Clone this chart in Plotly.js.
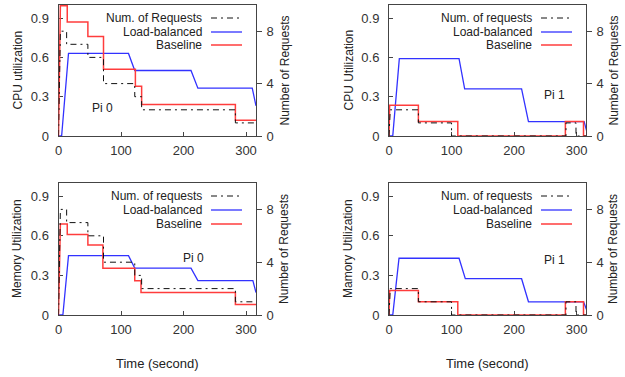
<!DOCTYPE html>
<html>
<head>
<meta charset="utf-8">
<script src="https://cdn.plot.ly/plotly-3.0.1.min.js"></script>
<style>html,body{margin:0;padding:0;background:#fff;}#chart{width:625px;height:377px;}</style>
</head>
<body>
<div id="chart"></div>
<script>
// ---------- data (time in seconds) ----------
// Pi 0 : number of requests (shared by CPU and memory panels)
const reqPi0T = [0, 3, 13, 13, 47, 47, 72, 72, 122, 122, 133, 133, 283, 283, 316];
const reqPi0V = [0, 8, 8, 7, 7, 6, 6, 4, 4, 3, 3, 2, 2, 1, 1];
// Pi 1 : number of requests
const reqPi1T = [0, 2, 47, 47, 100, 100, 283, 283, 299, 299, 316];
const reqPi1V = [0, 2, 2, 1, 1, 0, 0, 1, 1, 0, 0];

// CPU Pi 0
const cpu0LbT = [0, 5, 16, 112, 122, 212, 223, 310, 316];
const cpu0LbV = [0, 0, 0.63, 0.63, 0.50, 0.50, 0.365, 0.365, 0.23];
const cpu0BaseT = [0, 3, 14, 14, 47, 47, 72, 72, 123, 123, 133, 133, 283, 283, 316];
const cpu0BaseV = [0, 0.995, 0.995, 0.87, 0.87, 0.76, 0.76, 0.51, 0.51, 0.38, 0.38, 0.24, 0.24, 0.12, 0.12];

// CPU Pi 1
const cpu1LbT = [0, 6, 16.5, 112, 121, 212, 223, 312, 316];
const cpu1LbV = [0, 0, 0.59, 0.59, 0.36, 0.36, 0.11, 0.11, 0.04];
const cpu1BaseT = [0, 1, 47, 47, 110, 110, 282, 282, 311, 311, 316];
const cpu1BaseV = [0, 0.235, 0.235, 0.11, 0.11, 0, 0, 0.11, 0.11, 0, 0];

// Memory Pi 0
const mem0LbT = [0, 7, 16, 112, 122, 212, 223, 311, 316];
const mem0LbV = [0, 0, 0.45, 0.45, 0.355, 0.355, 0.26, 0.26, 0.17];
const mem0BaseT = [0, 3, 14, 14, 47, 47, 71, 71, 122, 122, 132, 132, 283, 283, 316];
const mem0BaseV = [0, 0.69, 0.69, 0.61, 0.61, 0.53, 0.53, 0.355, 0.355, 0.26, 0.26, 0.17, 0.17, 0.08, 0.08];

// Memory Pi 1
const mem1LbT = [0, 6, 16, 112, 122, 212, 223, 311, 316];
const mem1LbV = [0, 0, 0.43, 0.43, 0.275, 0.275, 0.10, 0.10, 0.04];
const mem1BaseT = [0, 1, 47, 47, 110, 110, 282, 282, 311, 311, 316];
const mem1BaseV = [0, 0.185, 0.185, 0.10, 0.10, 0, 0, 0.10, 0.10, 0, 0];

// tick values
const xTicks = [0, 100, 200, 300];
const yTicks = [0, 0.3, 0.6, 0.9];
const yTickText = ['0', '0.3', '0.6', '0.9'];
const y2Ticks = [0, 4, 8];

// texts
const panels = [
  {left: 'CPU utilization', reqLabel: 'Num. of Requests', pi: 'Pi 0'},
  {left: 'CPU Utilization', reqLabel: 'Num. of requests', pi: 'Pi 1'},
  {left: 'Memory Utilization', reqLabel: 'Num. of requests', pi: 'Pi 0'},
  {left: 'Mamory Utilization', reqLabel: 'Num. of requests', pi: 'Pi 1'}
];
const lbLabel = 'Load-balanced';
const baseLabel = 'Baseline';
const xTitle = 'Time (second)';
const rightTitle = 'Number of Requests';

// ---------- layout geometry ----------
const W = 625, H = 377;
const FONT = 'Liberation Sans, Arial, sans-serif';
const TXT = '#222';
const RED = 'rgb(255,60,60)';
const BLUE = 'rgb(50,50,255)';

const px = (x) => x / W;
const py = (y) => 1 - y / H;

// [left, right, top, bottom] in pixels
const boxes = [
  [58.5, 256, 5, 136],
  [389, 586, 5, 136],
  [58.5, 256, 183, 315],
  [389, 586, 183, 315]
];
const xRanges = [[0, 316], [0, 315], [0, 316], [0, 315]];

const series = [
  {req: [reqPi0T, reqPi0V], lb: [cpu0LbT, cpu0LbV], base: [cpu0BaseT, cpu0BaseV]},
  {req: [reqPi1T, reqPi1V], lb: [cpu1LbT, cpu1LbV], base: [cpu1BaseT, cpu1BaseV]},
  {req: [reqPi0T, reqPi0V], lb: [mem0LbT, mem0LbV], base: [mem0BaseT, mem0BaseV]},
  {req: [reqPi1T, reqPi1V], lb: [mem1LbT, mem1LbV], base: [mem1BaseT, mem1BaseV]}
];

const traces = [];
const layout = {
  width: W, height: H,
  margin: {l: 0, r: 0, t: 0, b: 0},
  paper_bgcolor: '#fff', plot_bgcolor: '#fff',
  showlegend: false,
  font: {family: FONT, size: 12, color: TXT},
  annotations: [], shapes: []
};

const tickFont = {family: FONT, size: 13, color: '#333'};

boxes.forEach((b, i) => {
  const [l, r, t, bt] = b;
  const xn = i === 0 ? '' : String(i + 1);
  const yL = String(2 * i + 1) === '1' ? '' : String(2 * i + 1);
  const yR = String(2 * i + 2);
  const xref = 'x' + xn, yLref = 'y' + yL, yRref = 'y' + yR;

  layout['xaxis' + xn] = {
    domain: [px(l), px(r)], anchor: yLref, range: xRanges[i],
    tickvals: xTicks, ticks: 'inside', ticklen: 4, tickcolor: '#444',
    showline: true, mirror: true, linecolor: '#444', linewidth: 1,
    showgrid: false, zeroline: false, tickfont: tickFont, ticklabelstandoff: 2,
    layer: 'below traces'
  };
  layout['yaxis' + yL] = {
    domain: [py(bt), py(t)], anchor: xref, range: [0, 1],
    tickvals: yTicks, ticktext: yTickText, ticks: 'inside', ticklen: 4, tickcolor: '#444',
    showline: true, linecolor: '#444', linewidth: 1,
    showgrid: false, zeroline: false, tickfont: tickFont, ticklabelstandoff: 6,
    layer: 'below traces'
  };
  layout['yaxis' + yR] = {
    overlaying: yLref, side: 'right', anchor: xref, range: [0, 10],
    tickvals: y2Ticks, ticks: 'outside', ticklen: 5, tickcolor: '#444',
    showline: true, linecolor: '#444', linewidth: 1,
    showgrid: false, zeroline: false, tickfont: tickFont, ticklabelstandoff: 2,
    layer: 'below traces'
  };

  const s = series[i];
  traces.push({x: s.req[0], y: s.req[1], xaxis: xref, yaxis: yRref, mode: 'lines',
    line: {color: '#111', width: 1, dash: '6px,4px,2px,4px'}, name: panels[i].reqLabel});
  traces.push({x: s.lb[0], y: s.lb[1], xaxis: xref, yaxis: yLref, mode: 'lines',
    line: {color: BLUE, width: 1.3}, name: lbLabel});
  traces.push({x: s.base[0], y: s.base[1], xaxis: xref, yaxis: yLref, mode: 'lines',
    line: {color: RED, width: 1.5}, name: baseLabel});

  // axis titles
  const midY = (t + bt) / 2;
  layout.annotations.push({xref: 'paper', yref: 'paper', x: px(i % 2 === 0 ? 17 : 348), y: py(midY),
    text: panels[i].left, showarrow: false, textangle: -90, xanchor: 'center', yanchor: 'middle',
    font: {family: FONT, size: 12, color: TXT}});
  layout.annotations.push({xref: 'paper', yref: 'paper', x: px(i % 2 === 0 ? 284 : 613), y: py(midY),
    text: rightTitle, showarrow: false, textangle: -90, xanchor: 'center', yanchor: 'middle',
    font: {family: FONT, size: 12, color: TXT}});
  if (i >= 2) {
    layout.annotations.push({xref: 'paper', yref: 'paper', x: px(i === 2 ? 157 : 487), y: py(363),
      text: xTitle, showarrow: false, xanchor: 'center', yanchor: 'middle',
      font: {family: FONT, size: 13, color: TXT}});
  }

  // legend (text right-aligned, sample on the right)
  const textRight = i % 2 === 0 ? 204 : 534;
  const sx0 = i % 2 === 0 ? 211 : 541, sx1 = sx0 + 31;
  const rows = i < 2 ? [18, 32, 45] : [196, 210, 224];
  const items = [
    {label: panels[i].reqLabel, color: '#111', dash: 'dashdot', w: 1},
    {label: lbLabel, color: BLUE, dash: 'solid', w: 1.3},
    {label: baseLabel, color: RED, dash: 'solid', w: 1.5}
  ];
  items.forEach((it, k) => {
    layout.annotations.push({xref: 'paper', yref: 'paper', x: px(textRight), y: py(rows[k]),
      text: it.label, showarrow: false, xanchor: 'right', yanchor: 'middle',
      font: {family: FONT, size: 12, color: TXT}});
    layout.shapes.push({type: 'line', xref: 'paper', yref: 'paper',
      x0: px(sx0), x1: px(sx1), y0: py(rows[k]), y1: py(rows[k]),
      line: {color: it.color, width: it.w, dash: it.dash === 'dashdot' ? '6px,4px,2px,4px' : 'solid'}});
  });

  // Pi label
  const piPos = [[102, 108], [554, 95], [193, 258], [554, 260]][i];
  layout.annotations.push({xref: 'paper', yref: 'paper', x: px(piPos[0]), y: py(piPos[1]),
    text: panels[i].pi, showarrow: false, xanchor: 'center', yanchor: 'middle',
    font: {family: FONT, size: 12, color: TXT}});
});

Plotly.newPlot('chart', traces, layout, {staticPlot: true, displayModeBar: false});
</script>
</body>
</html>
